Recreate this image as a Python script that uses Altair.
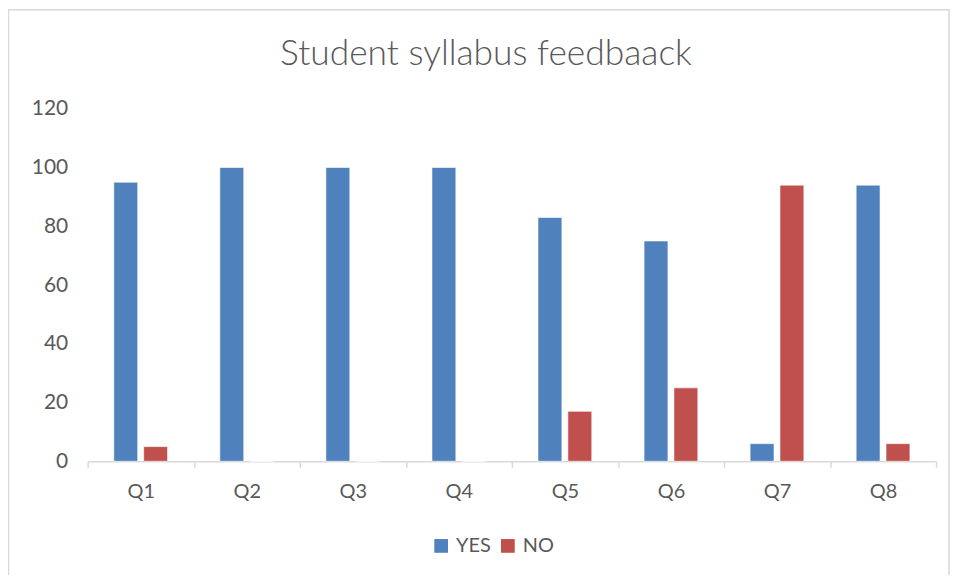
import altair as alt
import pandas as pd

questions = ["Q1", "Q2", "Q3", "Q4", "Q5", "Q6", "Q7", "Q8"]
yes_values = [95, 100, 100, 100, 83, 75, 6, 94]
no_values = [5, 0, 0, 0, 17, 25, 94, 6]
series = ["YES", "NO"]
colors = ["#4F81BD", "#C0504D"]
y_ticks = [0, 20, 40, 60, 80, 100, 120]
title_text = "Student syllabus feedbaack"

rows = []
for q, y, n in zip(questions, yes_values, no_values):
    rows.append({"question": q, "answer": "YES", "value": y})
    rows.append({"question": q, "answer": "NO", "value": n})
df = pd.DataFrame(rows)

FONT = "Lato"
TXT = "#595959"
W, H = 852, 354

bars = alt.Chart(df).mark_bar(stroke="white", strokeWidth=0.6).encode(
    x=alt.X("question:N", sort=questions, title=None,
            scale=alt.Scale(paddingInner=0, paddingOuter=0),
            axis=alt.Axis(labelAngle=0, tickBand="extent", tickSize=6,
                          tickColor="#d9d9d9", domainColor="#d9d9d9",
                          domainWidth=1.5, tickWidth=1.5,
                          labelPadding=14, labelFontSize=20,
                          labelColor=TXT, labelFont=FONT, grid=False)),
    xOffset=alt.XOffset("answer:N", sort=series,
                        scale=alt.Scale(paddingInner=0.2, paddingOuter=0.875)),
    y=alt.Y("value:Q", title=None,
            scale=alt.Scale(domain=[0, 120], nice=False),
            axis=alt.Axis(values=y_ticks, ticks=False, domain=False, grid=False,
                          labelPadding=20, labelFontSize=21, labelColor=TXT,
                          labelFont=FONT)),
    color=alt.Color("answer:N", sort=series,
                    scale=alt.Scale(domain=series, range=colors),
                    legend=alt.Legend(title=None, orient="none", direction="horizontal",
                                      legendX=345, legendY=429,
                                      symbolType="square", symbolSize=190,
                                      symbolStrokeWidth=0, labelFontSize=20,
                                      labelColor=TXT, labelFont=FONT,
                                      columnPadding=7, labelOffset=5)),
)

one = alt.Data(values=[{}])

border = alt.Chart(one).mark_rect(
    fill=None, stroke="#d9d9d9", strokeWidth=1.5, clip=False
).encode(
    x=alt.value(-79.5), x2=alt.value(865),
    y=alt.value(-99.5), y2=alt.value(485),
)

title = alt.Chart(one).mark_text(
    text=title_text, font=FONT, fontSize=35.5, fontWeight=300, color=TXT,
    align="center", baseline="alphabetic",
).encode(x=alt.value(400), y=alt.value(-44))

chart = alt.layer(border, bars, title).properties(
    width=W, height=H,
    autosize=alt.AutoSizeParams(type="none"),
    padding={"left": 80, "top": 100, "right": 14, "bottom": 113},
).configure(background="white", view=alt.ViewConfig(strokeWidth=0, stroke="transparent"))

chart.save("out.html", embed_options={"renderer": "svg", "actions": False})
